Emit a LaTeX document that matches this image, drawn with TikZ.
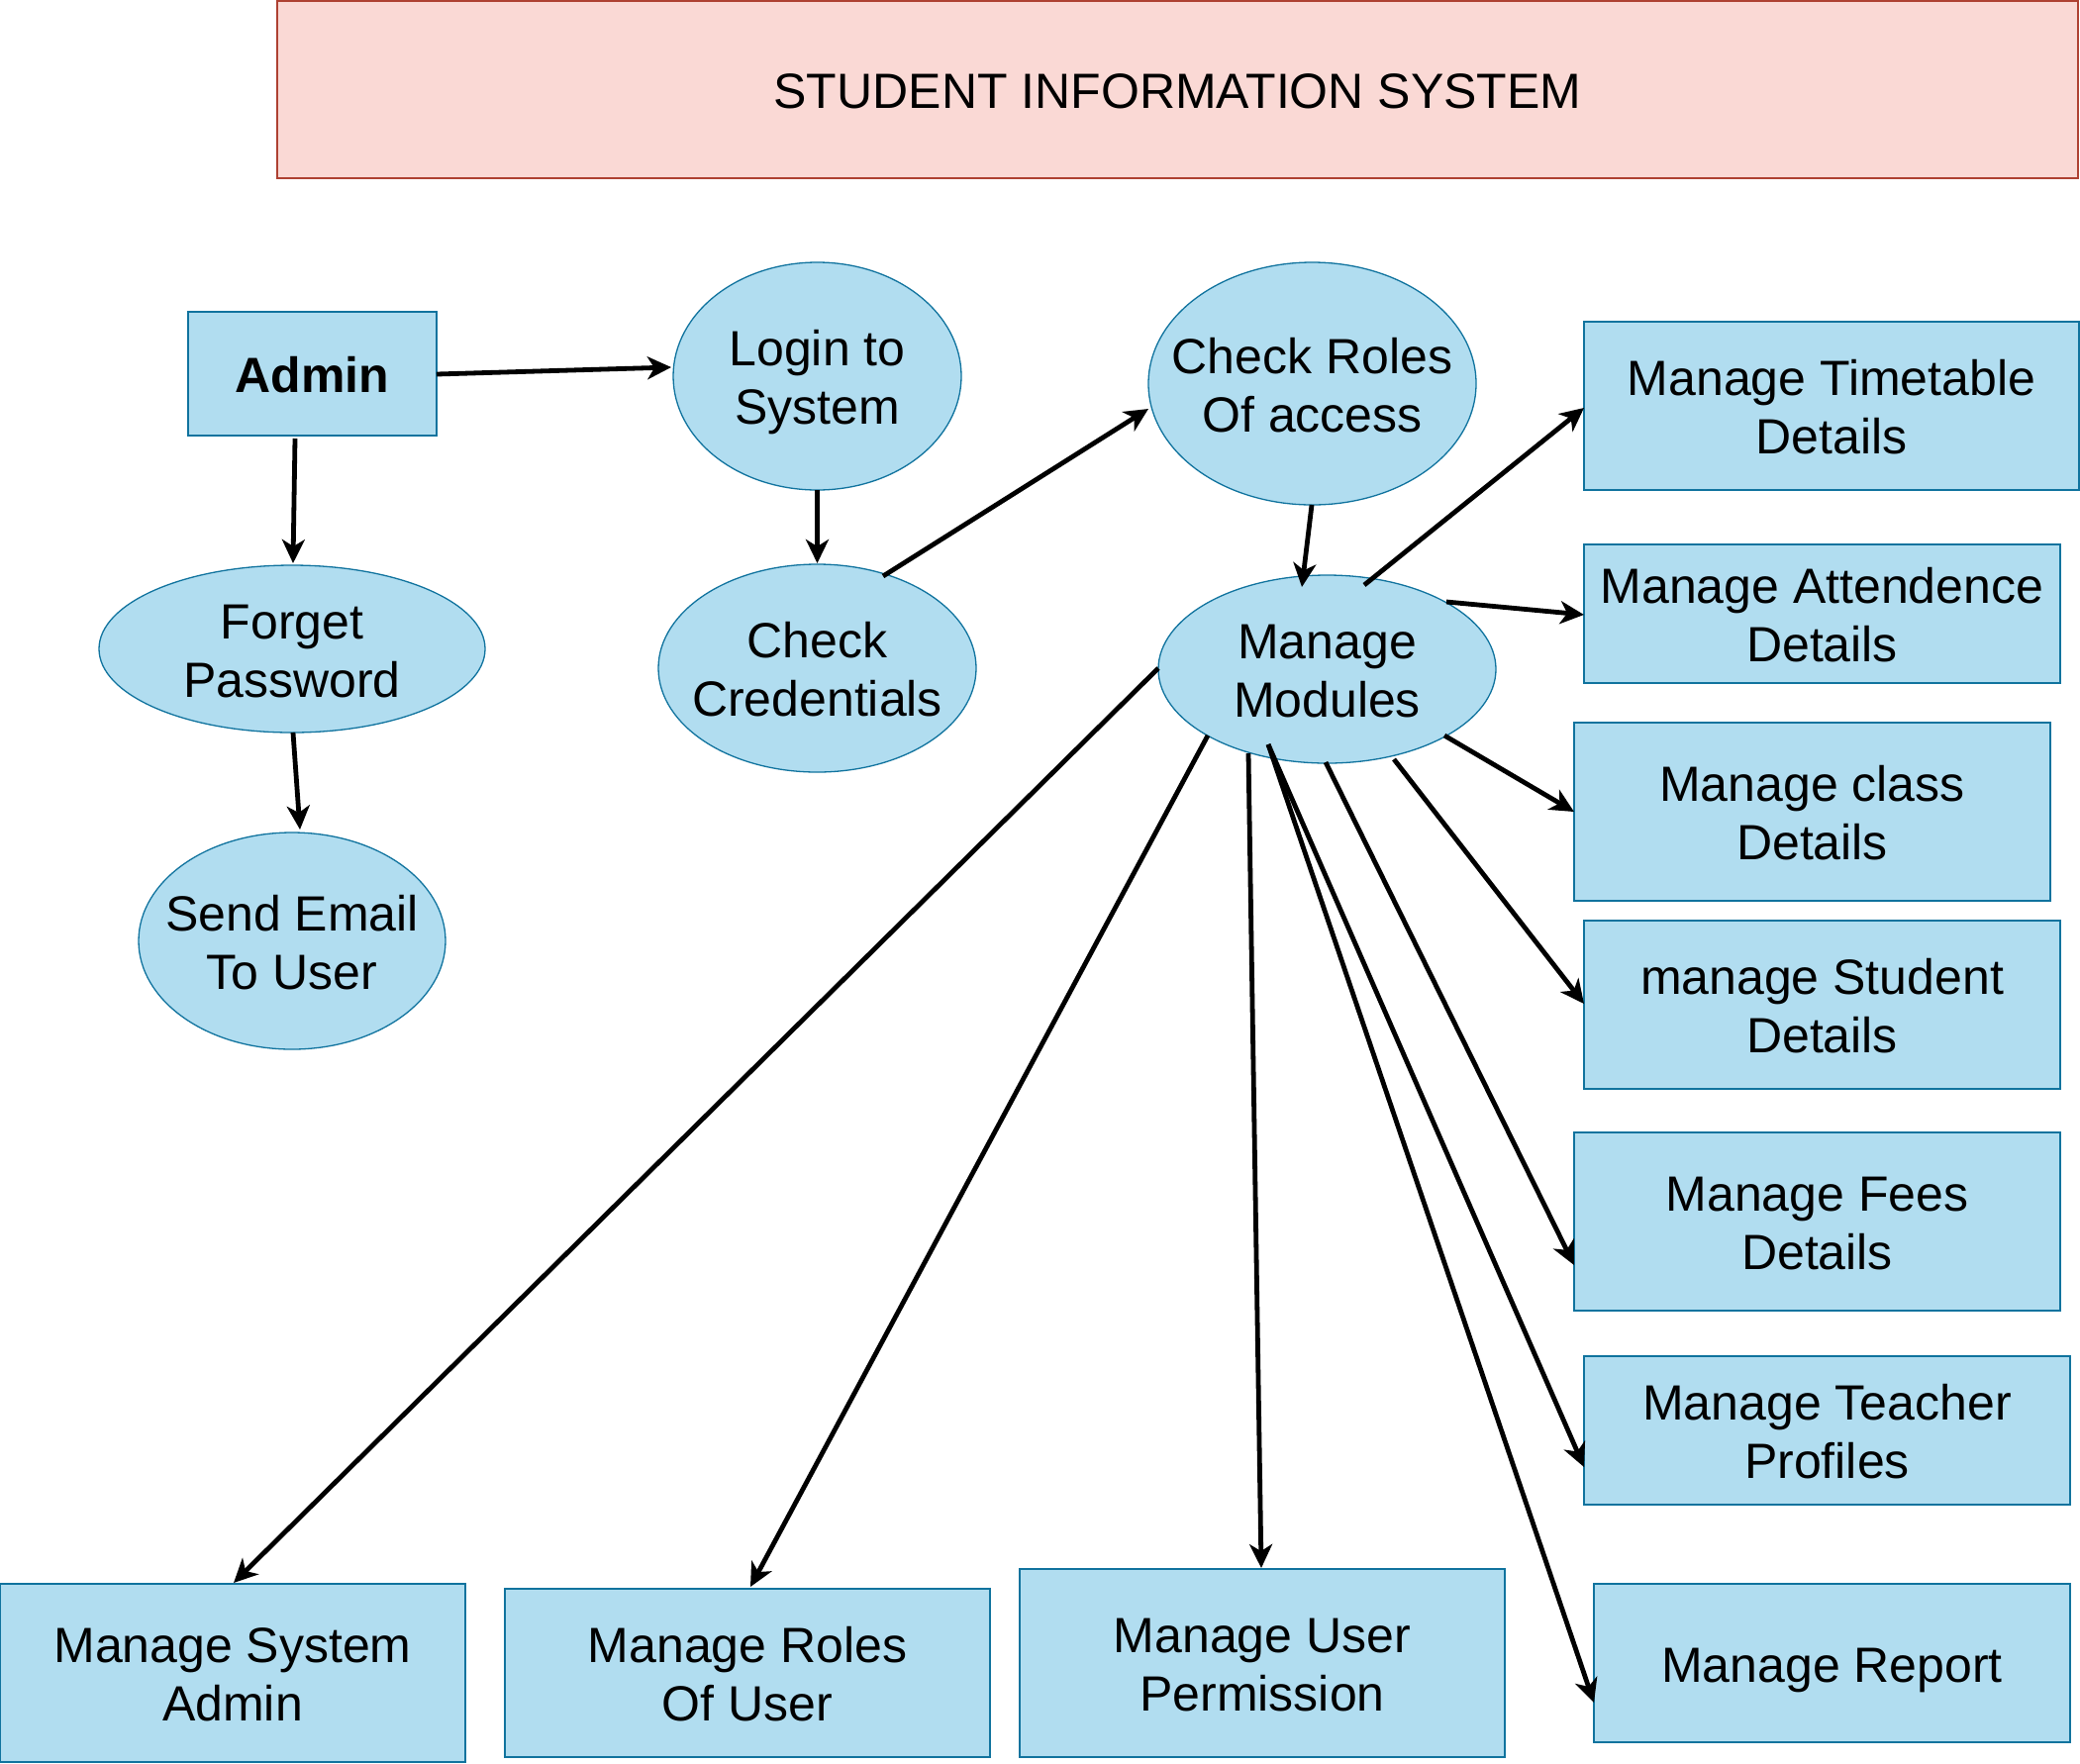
\documentclass[tikz,border=0pt]{standalone}
\usepackage{fontspec}
\setmainfont{Liberation Sans}
\usetikzlibrary{arrows.meta,calc,shapes.geometric}
\definecolor{boxfill}{HTML}{B1DDF0}
\definecolor{boxline}{HTML}{10739E}
\definecolor{titlefill}{HTML}{FAD9D5}
\definecolor{titleline}{HTML}{AE4132}
\newcommand\ls{\rule[-10.5pt]{0pt}{59pt}}
\tikzset{
  lbl/.style={font=\fontsize{50}{59}\selectfont, align=center, inner sep=0pt, outer sep=0pt, text=black},
  bluebox/.style={lbl, rectangle, draw=boxline, fill=boxfill, line width=1.3pt},
  blueell/.style={lbl, ellipse, draw=boxline, fill=boxfill, line width=1.3pt, inner sep=-150pt},
  titlebox/.style={lbl, rectangle, draw=titleline, fill=titlefill, line width=1.3pt},
  conn/.style={line width=4.8pt, draw=black, -{Stealth[length=24pt,width=23pt,inset=7pt]}},
}
\begin{document}
\begin{tikzpicture}[x=1pt,y=-1pt]
\useasboundingbox (0,0) rectangle (2101,1781);
% title
\node[titlebox, minimum width=1819pt, minimum height=179pt] (title) at (1189.5,90.5) {\ls STUDENT INFORMATION SYSTEM};
% ellipses / boxes
\node[bluebox, minimum width=251pt, minimum height=125pt] (admin) at (315.5,377.5) {\ls\textbf{Admin}};
\node[blueell, minimum width=291pt, minimum height=230pt] (login) at (825.5,380) {\ls Login to\\\ls System};
\node[blueell, minimum width=321pt, minimum height=210pt] (cc) at (825.5,675) {\ls Check\\\ls Credentials};
\node[blueell, minimum width=331pt, minimum height=245pt] (cr) at (1325.5,387.5) {\ls Check Roles\\\ls Of access};
\node[blueell, minimum width=341pt, minimum height=190pt] (mm) at (1340.5,676) {\ls Manage\\\ls Modules};
\node[blueell, minimum width=390pt, minimum height=169pt] (fp) at (295,655.5) {\ls Forget\\\ls Password};
\node[blueell, minimum width=310pt, minimum height=219pt] (se) at (295,950.5) {\ls Send Email\\\ls To User};
% right column
\node[bluebox, minimum width=500pt, minimum height=170pt] (tt) at (1850,410) {\ls Manage Timetable\\\ls Details};
\node[bluebox, minimum width=481pt, minimum height=140pt] (att) at (1840.5,620) {\ls Manage Attendence\\\ls Details};
\node[bluebox, minimum width=481pt, minimum height=180pt] (cls) at (1830.5,820) {\ls Manage class\\\ls Details};
\node[bluebox, minimum width=481pt, minimum height=170pt] (stu) at (1840.5,1015) {\ls manage Student\\\ls Details};
\node[bluebox, minimum width=491pt, minimum height=180pt] (fee) at (1835.5,1234) {\ls Manage Fees\\\ls Details};
\node[bluebox, minimum width=491pt, minimum height=150pt] (tch) at (1845.5,1445) {\ls Manage Teacher\\\ls Profiles};
\node[bluebox, minimum width=481pt, minimum height=160pt] (rep) at (1850.5,1680) {\ls Manage Report};
% bottom row
\node[bluebox, minimum width=470pt, minimum height=180pt] (sa) at (235,1690) {\ls Manage System\\\ls Admin};
\node[bluebox, minimum width=490pt, minimum height=170pt] (ru) at (755,1690) {\ls Manage Roles\\\ls Of User};
\node[bluebox, minimum width=490pt, minimum height=190pt] (up) at (1275,1680) {\ls Manage User\\\ls Permission};
% connectors
\draw[conn] ($(admin)+(125.5,0.5)$) -- ($(login)+(-147.5,-9)$);
\draw[conn] ($(admin)+(-17.5,65.5)$) -- ($(fp)+(1,-86.5)$);
\draw[conn] ($(fp)+(1,84.5)$) -- ($(se)+(8,-112.5)$);
\draw[conn] ($(login)+(0,115)$) -- ($(cc)+(0,-106)$);
\draw[conn] ($(cc)+(66.5,-93)$) -- ($(cr)+(-165.5,25.5)$);
\draw[conn] ($(cr)+(-0.5,122.5)$) -- ($(mm)+(-25.5,-83)$);
\draw[conn] ($(mm)+(37.5,-85)$) -- ($(tt)+(-250,2)$);
\draw[conn] ($(mm)+(120.5,-68)$) -- ($(att)+(-240.5,1)$);
\draw[conn] ($(mm)+(118.5,67)$) -- ($(cls)+(-240.5,0)$);
\draw[conn] ($(mm)+(67.5,91)$) -- ($(stu)+(-240.5,-1)$);
\draw[conn] ($(mm)+(-1.5,94)$) -- ($(fee)+(-245.5,44)$);
\draw[conn] ($(mm)+(-59.5,76)$) -- ($(tch)+(-245.5,37)$);
\draw[conn] ($(mm)+(-59.5,76)$) -- ($(rep)+(-240.5,40)$);
\draw[conn] ($(mm)+(-79.5,85)$) -- ($(up)+(-1,-96)$);
\draw[conn] ($(mm)+(-120.5,67)$) -- ($(ru)+(3,-87)$);
\draw[conn] ($(mm)+(-170.5,-1)$) -- ($(sa)+(1,-91)$);
\end{tikzpicture}
\end{document}
